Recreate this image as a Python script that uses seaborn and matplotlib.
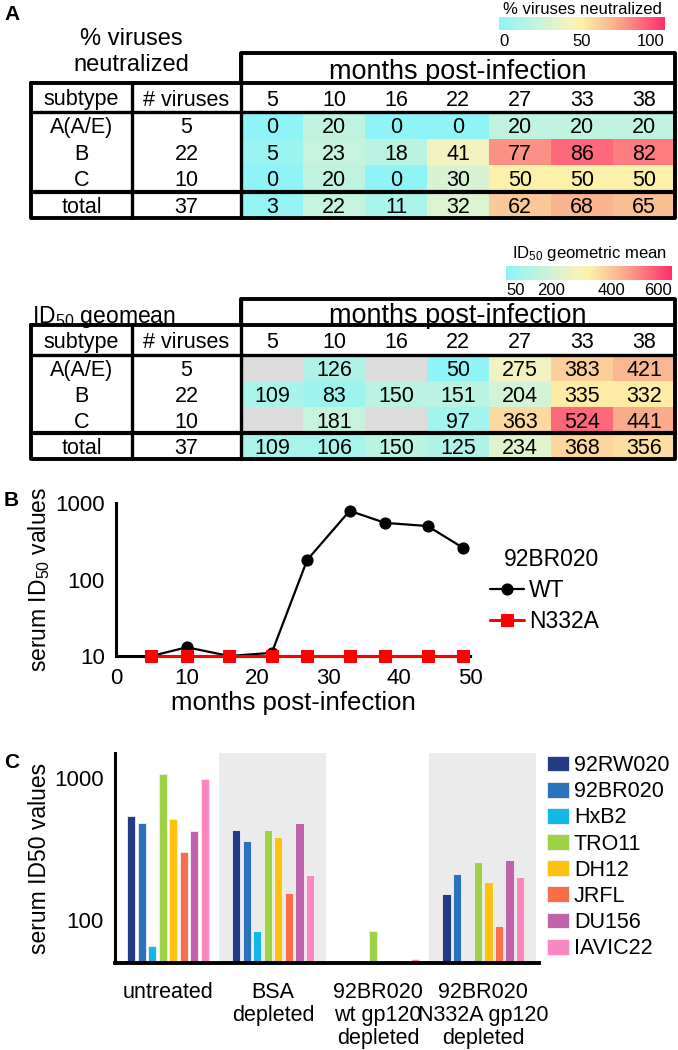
import numpy as np
import pandas as pd
import seaborn as sns
import matplotlib.pyplot as plt
from matplotlib.colors import LinearSegmentedColormap

# -------------------- data --------------------
months = [5, 10, 16, 22, 27, 33, 38]
subtypes = ["A(A/E)", "B", "C", "total"]
n_viruses = [5, 22, 10, 37]

pct_neutralized = [
    [0, 20, 0, 0, 20, 20, 20],
    [5, 23, 18, 41, 77, 86, 82],
    [0, 20, 0, 30, 50, 50, 50],
    [3, 22, 11, 32, 62, 68, 65],
]
id50_geomean = [
    [np.nan, 126, np.nan, 50, 275, 383, 421],
    [109, 83, 150, 151, 204, 335, 332],
    [np.nan, 181, np.nan, 97, 363, 524, 441],
    [109, 106, 150, 125, 234, 368, 356],
]

b_months = [5, 10, 16, 22, 27, 33, 38, 44, 49]
b_wt = [10, 13, 10, 11, 180, 790, 550, 500, 260]
b_n332a = [10, 10, 10, 10, 10, 10, 10, 10, 10]

c_treatments = ["untreated", "BSA\ndepleted", "92BR020\nwt gp120\ndepleted",
                "92BR020\nN332A gp120\ndepleted"]
c_viruses = ["92RW020", "92BR020", "HxB2", "TRO11", "DH12", "JRFL", "DU156", "IAVIC22"]
c_untreated = [540, 482, 66, 1066, 514, 301, 424, 990]
c_bsa = [430, 360, 84, 430, 385, 155, 480, 207]
c_wt_gp120 = [np.nan, np.nan, np.nan, 84, np.nan, np.nan, np.nan, 53]
c_n332a_gp120 = [152, 211, np.nan, 256, 185, 91, 264, 200]
c_colors = ["#233a86", "#2a72bd", "#12b9e8", "#9dd146", "#fdc20f",
            "#fa6f48", "#c062ac", "#fb87c1"]

# -------------------- style --------------------
sns.set_theme(style="white")
plt.rcParams["font.family"] = ["Liberation Sans", "DejaVu Sans"]
plt.rcParams["mathtext.fontset"] = "custom"
plt.rcParams["mathtext.rm"] = "Liberation Sans"
plt.rcParams["text.color"] = "black"
plt.rcParams["axes.labelcolor"] = "black"
plt.rcParams["xtick.color"] = "black"
plt.rcParams["ytick.color"] = "black"

W, H = 678, 1050
fig = plt.figure(figsize=(W / 100, H / 100), dpi=100)


def box(x0, y0, x1, y1):
    # pixel box (y from top) -> figure fraction
    return [x0 / W, 1 - y1 / H, (x1 - x0) / W, (y1 - y0) / H]


ov = fig.add_axes([0, 0, 1, 1], zorder=10)
ov.set_xlim(0, W)
ov.set_ylim(H, 0)
ov.axis("off")
ov.patch.set_alpha(0)

cmap = LinearSegmentedColormap.from_list(
    "neut", [(0, "#8ef4f8"), (0.25, "#cbf3da"), (0.42, "#f4f2bd"), (0.5, "#fdf1a8"),
             (0.72, "#faa88b"), (1.0, "#ff2d6b")])

X_LEFT, X_DIV, X_HEAT, X_RIGHT = 31, 132, 241, 675
col_w = (X_RIGHT - X_HEAT) / len(months)
LW = 2.4


def draw_table(values, vmin, vmax, ticks, rows_y, title, title_xy, title_kw,
               cbar_box, cbar_title, title_gap, cbar_pad):
    y_head, y_month, y_data, y_bottom = rows_y
    hax = fig.add_axes(box(X_HEAT, y_data, X_RIGHT, y_bottom))
    hax.set_facecolor("#dcdcdc")
    df = pd.DataFrame(values, index=subtypes, columns=months)
    sns.heatmap(df, ax=hax, cmap=cmap, vmin=vmin, vmax=vmax, cbar=False,
                annot=True, fmt=".0f", linewidths=0,
                annot_kws={"size": 15.5, "color": "black", "va": "center_baseline"},
                xticklabels=False, yticklabels=False)
    hax.set_xlabel("")
    hax.set_ylabel("")

    rh = (y_bottom - y_data) / len(subtypes)
    y_sep = y_data + 3 * rh
    # frame lines
    ov.plot([X_LEFT, X_RIGHT, X_RIGHT, X_LEFT, X_LEFT],
            [y_month, y_month, y_bottom, y_bottom, y_month], color="black", lw=LW + 0.4)
    ov.plot([X_HEAT, X_HEAT, X_RIGHT, X_RIGHT],
            [y_month, y_head, y_head, y_month], color="black", lw=LW + 0.4)
    ov.plot([X_LEFT, X_RIGHT], [y_data, y_data], color="black", lw=LW)
    ov.plot([X_LEFT, X_RIGHT], [y_sep, y_sep], color="black", lw=LW + 0.6)
    ov.plot([X_DIV, X_DIV], [y_month, y_bottom], color="black", lw=LW)
    ov.plot([X_HEAT, X_HEAT], [y_head, y_bottom], color="black", lw=LW)

    ov.text((X_HEAT + X_RIGHT) / 2, (y_head + y_month) / 2 + 1, "months post-infection",
            ha="center", va="center_baseline", fontsize=19.5)
    ym = (y_month + y_data) / 2
    ov.text((X_LEFT + X_DIV) / 2, ym, "subtype", ha="center", va="center_baseline", fontsize=15.5)
    ov.text((X_DIV + X_HEAT) / 2, ym, "# viruses", ha="center", va="center_baseline", fontsize=15.5)
    for j, m in enumerate(months):
        ov.text(X_HEAT + (j + 0.5) * col_w, ym, str(m), ha="center",
                va="center_baseline", fontsize=15.5)
    for i, (s, n) in enumerate(zip(subtypes, n_viruses)):
        yc = y_data + (i + 0.5) * rh
        ov.text((X_LEFT + X_DIV) / 2, yc, s, ha="center", va="center_baseline", fontsize=15.5)
        ov.text((X_DIV + X_HEAT) / 2, yc, str(n), ha="center", va="center_baseline", fontsize=15.5)

    ov.text(title_xy[0], title_xy[1], title, **title_kw)

    cax = fig.add_axes(box(*cbar_box))
    cb = fig.colorbar(hax.collections[0], cax=cax, orientation="horizontal")
    cb.outline.set_visible(False)
    cb.set_ticks(ticks)
    cax.tick_params(length=0, labelsize=12, pad=cbar_pad)
    tl = cax.get_xticklabels()
    tl[0].set_ha("left")
    tl[-1].set_ha("right")
    ov.text((cbar_box[0] + cbar_box[2]) / 2, cbar_box[1] - title_gap, cbar_title,
            ha="center", va="center_baseline", fontsize=12)


draw_table(pct_neutralized, 0, 100, [0, 50, 100], (53, 83, 112, 218),
           "% viruses\nneutralized", (131, 52),
           {"ha": "center", "va": "center", "multialignment": "center", "fontsize": 17},
           (499, 17, 665, 30), "% viruses neutralized", 9, 3)
draw_table(id50_geomean, 50, 600, [50, 200, 400, 600], (299, 325, 355, 459),
           r"ID$\mathregular{_{50}}$ geomean", (32, 313),
           {"ha": "left", "va": "center_baseline", "fontsize": 16.5},
           (506, 266, 672, 280), r"ID$\mathregular{_{50}}$ geometric mean", 15, 2)

ov.text(4, 15, "A", fontsize=15, fontweight="bold", va="center")
ov.text(4, 500, "B", fontsize=15, fontweight="bold", va="center")
ov.text(4, 763, "C", fontsize=15, fontweight="bold", va="center")

# -------------------- panel B --------------------
axb = fig.add_axes(box(116, 503, 470, 656))
axb.set_yscale("log")
sns.lineplot(x=b_months, y=b_wt, ax=axb, color="black", lw=1.6, marker="o",
             markersize=8, markeredgecolor="black", clip_on=False, zorder=3,
             label="WT")
sns.lineplot(x=b_months, y=b_n332a, ax=axb, color="#ff0000", lw=2.2, marker="s",
             markersize=8, markeredgecolor="#ff0000", clip_on=False, zorder=4,
             label="N332A")
axb.set_xlim(0, 50)
axb.set_ylim(10, 1000)
axb.set_xticks([0, 10, 20, 30, 40, 50])
axb.set_yticks([10, 100, 1000])
axb.set_yticklabels(["10", "100", "1000"])
axb.minorticks_off()
axb.tick_params(axis="both", labelsize=16, width=2.2, length=7, direction="out", pad=2)
axb.tick_params(axis="y", pad=1)
sns.despine(ax=axb)
for sp in ["left", "bottom"]:
    axb.spines[sp].set_linewidth(2.2)
    axb.spines[sp].set_color("black")
axb.set_xlabel("months post-infection", fontsize=18.5, labelpad=1)
axb.set_ylabel(r"serum ID$\mathregular{_{50}}$ values", fontsize=16.5, labelpad=2)
handles, labels = axb.get_legend_handles_labels()
axb.legend(handles, labels, title="92BR020", loc="upper left",
           bbox_to_anchor=(490 / W, 1 - 548 / H), bbox_transform=fig.transFigure,
           frameon=False, fontsize=16.5, title_fontsize=16.5, handlelength=1.5,
           handletextpad=0.2, labelspacing=0.35, borderpad=0, borderaxespad=0,
           alignment="right")

# -------------------- panel C --------------------
axc = fig.add_axes(box(115, 753, 539, 963))
axc.set_yscale("log")
rows = []
for t, vals in zip(c_treatments, [c_untreated, c_bsa, c_wt_gp120, c_n332a_gp120]):
    for v, val in zip(c_viruses, vals):
        rows.append({"treatment": t, "virus": v, "value": val})
dfc = pd.DataFrame(rows).dropna()
axc.axvspan(0.48, 1.5, color="#ebebeb", zorder=0, lw=0)
axc.axvspan(2.48, 3.5, color="#ebebeb", zorder=0, lw=0)
sns.barplot(data=dfc, x="treatment", y="value", hue="virus", order=c_treatments,
            hue_order=c_viruses, palette=c_colors, saturation=1, width=0.8, gap=0.22,
            edgecolor="#f2f2f2", linewidth=0.6, ax=axc, zorder=2)
axc.set_xlim(-0.505, 3.53)
axc.set_ylim(50, 1500)
axc.set_yticks([100, 1000])
axc.set_yticklabels(["100", "1000"])
axc.minorticks_off()
axc.tick_params(axis="y", labelsize=16, width=2.2, length=7, pad=1)
axc.tick_params(axis="x", labelsize=15.5, width=2.6, length=9, pad=5)
for lab in axc.get_xticklabels():
    lab.set_linespacing(1.12)
sns.despine(ax=axc)
axc.spines["left"].set_linewidth(2.2)
axc.spines["bottom"].set_linewidth(2.8)
axc.spines["left"].set_color("black")
axc.spines["bottom"].set_color("black")
axc.set_xlabel("")
axc.set_ylabel("serum ID50 values", fontsize=16.5, labelpad=2)
h, l = axc.get_legend_handles_labels()
axc.legend(h, l, loc="upper left", bbox_to_anchor=(547 / W, 1 - 755 / H),
           bbox_transform=fig.transFigure, frameon=False, fontsize=15.5,
           handlelength=1.0, handleheight=0.75, handletextpad=0.25,
           labelspacing=0.24, borderpad=0, borderaxespad=0)

fig.savefig("out.png", dpi=100)
